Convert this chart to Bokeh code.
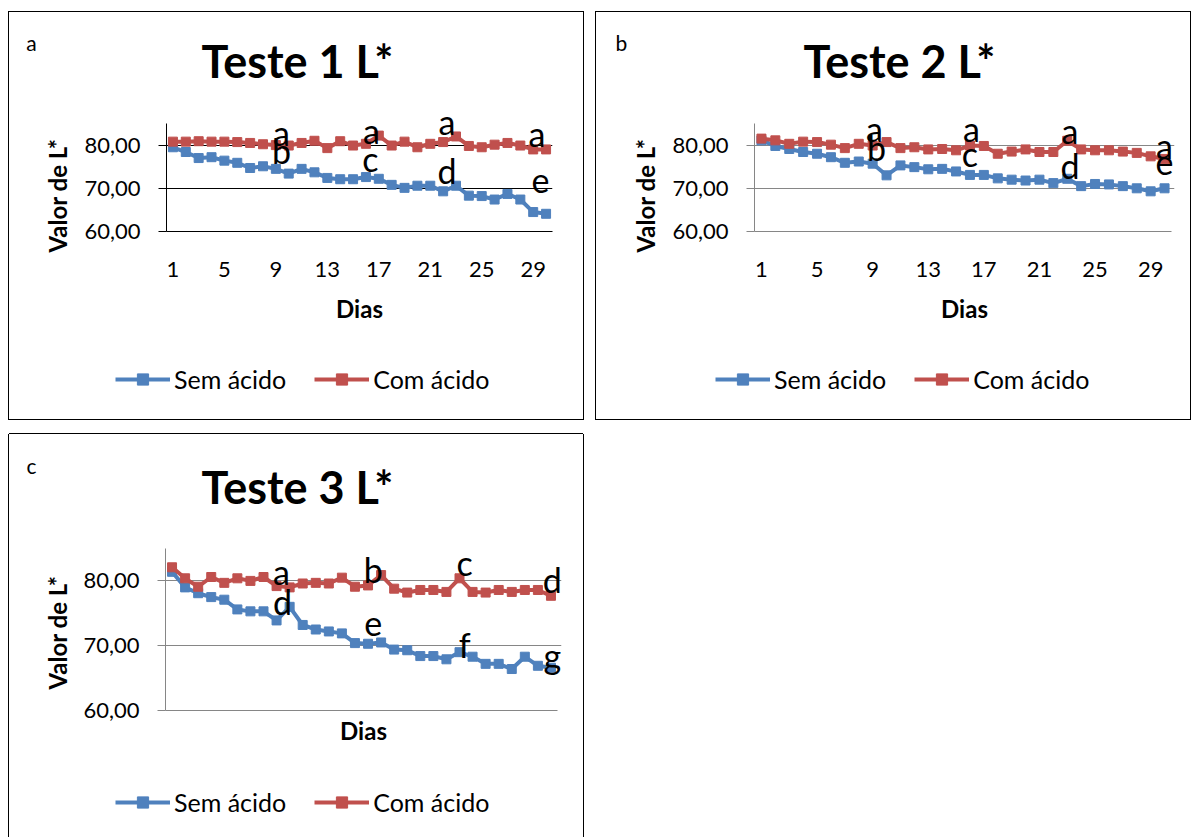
import math
from bokeh.plotting import figure
from bokeh.models import Range1d, FixedTicker, Legend, LegendItem, Spacer
from bokeh.layouts import row, column
from bokeh.core.properties import value
from bokeh.embed import file_html
from bokeh.resources import INLINE

# ---------------- data ----------------
days = list(range(1, 31))
x_tick_days = [1, 5, 9, 13, 17, 21, 25, 29]
y_ticks = [60, 70, 80]
y_tick_labels = {60: "60,00", 70: "70,00", 80: "80,00"}
series_names = ["Sem ácido", "Com ácido"]
panel_titles = ["Teste 1 L*", "Teste 2 L*", "Teste 3 L*"]
panel_tags = ["a", "b", "c"]
x_title = "Dias"
y_title = "Valor de L*"

t1_sem = [79.5, 78.4, 77.0, 77.2, 76.4, 75.9, 74.7, 75.1, 74.5, 73.4,
          74.5, 73.7, 72.4, 72.1, 72.1, 72.6, 72.2, 70.8, 70.1, 70.6,
          70.6, 69.3, 70.6, 68.3, 68.2, 67.4, 68.7, 67.4, 64.5, 64.1]
t1_com = [80.8, 80.8, 80.9, 80.8, 80.8, 80.7, 80.5, 80.2, 80.0, 79.9,
          80.5, 81.0, 79.3, 80.9, 79.9, 80.3, 82.2, 79.9, 80.8, 79.5,
          80.3, 80.7, 82.0, 79.8, 79.5, 80.1, 80.5, 79.9, 79.0, 79.0]

t2_sem = [81.1, 79.8, 79.1, 78.4, 78.0, 77.2, 75.9, 76.2, 75.7, 73.0,
          75.3, 74.9, 74.4, 74.5, 73.9, 73.1, 73.1, 72.3, 72.0, 71.8,
          72.0, 71.2, 72.2, 70.5, 71.0, 70.9, 70.5, 70.0, 69.3, 70.0]
t2_com = [81.5, 81.1, 80.3, 80.8, 80.7, 80.1, 79.3, 80.3, 79.9, 80.7,
          79.3, 79.5, 79.0, 79.1, 78.8, 79.9, 79.8, 78.0, 78.5, 79.0,
          78.4, 78.4, 81.0, 79.0, 78.8, 78.8, 78.5, 78.2, 77.4, 76.8]

t3_sem = [81.4, 79.0, 78.1, 77.5, 77.1, 75.6, 75.3, 75.3, 73.9, 76.0,
          73.2, 72.5, 72.2, 71.9, 70.4, 70.3, 70.5, 69.4, 69.3, 68.4,
          68.4, 67.9, 69.0, 68.3, 67.2, 67.2, 66.4, 68.3, 66.9, 66.6]
t3_com = [82.1, 80.4, 79.1, 80.6, 79.7, 80.4, 80.0, 80.6, 79.2, 79.0,
          79.6, 79.7, 79.6, 80.5, 79.1, 79.3, 80.9, 78.8, 78.2, 78.6,
          78.6, 78.3, 80.4, 78.3, 78.2, 78.6, 78.3, 78.6, 78.6, 77.7]

# significance letters (text, day, value)
t1_letters = ["a", "b", "a", "c", "a", "d", "a", "e"]
t1_letter_day = [9.44, 9.44, 16.43, 16.35, 22.3, 22.3, 29.3, 29.56]
t1_letter_val = [82.9, 78.75, 83.4, 76.9, 85.5, 74.1, 82.7, 71.8]

t2_letters = ["a", "b", "a", "c", "a", "d", "a", "e"]
t2_letter_day = [9.13, 9.27, 16.1, 16.0, 23.2, 23.2, 30.0, 30.0]
t2_letter_val = [83.8, 79.4, 83.8, 78.05, 83.4, 75.3, 79.9, 76.0]

t3_letters = ["a", "d", "b", "e", "c", "f", "d", "g"]
t3_letter_day = [9.38, 9.45, 16.4, 16.4, 23.4, 23.4, 30.1, 30.1]
t3_letter_val = [81.4, 76.8, 81.7, 73.4, 82.9, 70.2, 80.15, 68.5]

BLUE = "#4F81BD"
RED = "#C0504D"
FONT = "Lato"


def no_align(f):
    try:
        f.frame_align = False
    except Exception:
        pass
    return f


def bare(width, height):
    f = figure(frame_width=width, frame_height=height, output_backend="svg",
               toolbar_location=None,
               x_range=Range1d(0, width), y_range=Range1d(height, 0),
               x_axis_type=None, y_axis_type=None,
               min_border_left=0, min_border_right=0, min_border_top=0, min_border_bottom=0)
    f.grid.visible = False
    f.outline_line_color = None
    f.background_fill_color = "white"
    f.border_fill_color = "white"
    return no_align(f)


def header(width, height, title, tag, title_xy, tag_xy):
    h = bare(width, height)
    h.text(x=[title_xy[0]], y=[title_xy[1]], text=[title], text_align="center",
           text_baseline="middle", text_font=value(FONT), text_font_style="bold",
           text_font_size=value("45px"), text_color="black")
    h.text(x=[tag_xy[0]], y=[tag_xy[1]], text=[tag], text_align="center",
           text_baseline="middle", text_font=value(FONT),
           text_font_size=value("21px"), text_color="black")
    return h


def ylabel(width, height, cx, cy):
    f = bare(width, height)
    f.text(x=[cx], y=[cy], text=[y_title], angle=math.pi / 2, text_align="center",
           text_baseline="middle", text_font=value(FONT), text_font_style="bold",
           text_font_size=value("24px"), text_color="black")
    return f


def footer(width, height, legend_x, legend_cy, sem, com):
    f = bare(width, height)
    # the series are drawn on a range that keeps them out of sight; only their legend shows
    f.extra_x_ranges = {"hidden": Range1d(1000, 2000)}
    r1l = f.line(days, sem, x_range_name="hidden", line_color=BLUE, line_width=4)
    r1m = f.scatter(days, sem, x_range_name="hidden", marker="square", size=9,
                    fill_color=BLUE, line_color=BLUE)
    r2l = f.line(days, com, x_range_name="hidden", line_color=RED, line_width=4)
    r2m = f.scatter(days, com, x_range_name="hidden", marker="square", size=9,
                    fill_color=RED, line_color=RED)
    lh = 28
    legend = Legend(items=[LegendItem(label=series_names[0], renderers=[r1l, r1m]),
                           LegendItem(label=series_names[1], renderers=[r2l, r2m])],
                    orientation="horizontal",
                    location=(legend_x, int(round(height - (legend_cy + lh / 2)))),
                    glyph_width=55, glyph_height=lh, label_height=lh, label_standoff=4,
                    spacing=28, padding=0, margin=0, border_line_color=None,
                    background_fill_alpha=0, label_text_font=FONT,
                    label_text_font_size="25px", label_text_color="black")
    f.add_layout(legend)
    return f


def plot(ox, top, width, height, L, R, py85, py60, ftop, x_end_req, sem, com,
         letters, l_day, l_val, axis_color, show_xticks):
    cw = (R - L) / 30.0
    fr = int(round(R + (x_end_req - 30.5) * cw))
    x_end = 0.5 + 30.0 * (fr - L) / (R - L)
    y_end = 60 + 25.0 * (py60 - ftop) / (py60 - py85)
    p = figure(width=width, height=height, output_backend="svg", toolbar_location=None,
               x_range=Range1d(0.5, x_end), y_range=Range1d(60, y_end),
               min_border_left=L - ox, min_border_right=ox + width - fr,
               min_border_top=ftop - top, min_border_bottom=top + height - py60)
    no_align(p)
    p.outline_line_color = None
    p.background_fill_color = "white"
    p.border_fill_color = "white"

    xax = p.xaxis[0]
    yax = p.yaxis[0]
    xax.ticker = FixedTicker(ticks=x_tick_days if show_xticks else [])
    xax.bounds = (0.5, 30.5)
    xax.major_tick_out = 0
    xax.major_tick_in = 0
    xax.minor_tick_line_color = None
    xax.axis_line_color = axis_color
    xax.major_label_text_font = FONT
    xax.major_label_text_font_size = "22px"
    xax.major_label_text_color = "black"
    xax.major_label_standoff = 30
    xax.axis_label = x_title
    xax.axis_label_text_font = FONT
    xax.axis_label_text_font_style = "bold"
    xax.axis_label_text_font_size = "24px"
    xax.axis_label_text_color = "black"
    xax.axis_label_standoff = 14 if show_xticks else 5

    yax.ticker = FixedTicker(ticks=y_ticks)
    yax.bounds = (60, 85)
    yax.major_label_overrides = y_tick_labels
    yax.major_tick_out = 8
    yax.major_tick_in = 0
    yax.major_tick_line_color = axis_color
    yax.minor_tick_line_color = None
    yax.axis_line_color = axis_color
    yax.major_label_text_font = FONT
    yax.major_label_text_font_size = "22px"
    yax.major_label_text_color = "black"
    yax.major_label_standoff = 18

    p.xgrid.visible = False
    p.ygrid.ticker = FixedTicker(ticks=y_ticks)
    p.ygrid.grid_line_color = axis_color
    p.ygrid.grid_line_width = 1

    p.line(days, sem, line_color=BLUE, line_width=4)
    p.scatter(days, sem, marker="square", size=9, fill_color=BLUE, line_color=BLUE)
    p.line(days, com, line_color=RED, line_width=4)
    p.scatter(days, com, marker="square", size=9, fill_color=RED, line_color=RED)

    p.text(x=l_day, y=l_val, text=letters, text_align="center", text_baseline="middle",
           text_font=value(FONT), text_font_size=value("34px"), text_color="black")
    return p


YW = 66  # width of the y-title strip

# panel a : inner box x 9..583, y 12..419
hA = header(574, 88, panel_titles[0], panel_tags[0], (288, 48), (22, 30))
yA = ylabel(YW, 235, 48, 95)
pA = plot(9 + YW, 100, 574 - YW, 235, 166, 552, 123, 231, 110, 30.5, t1_sem, t1_com,
          t1_letters, t1_letter_day, t1_letter_val, "#000000", True)
fA = footer(574, 84, 106, 45, t1_sem, t1_com)
wrapA = column(hA, row(yA, pA), fA, styles={"box-shadow": "0 0 0 1px #000000"})

# panel b : inner box x 596..1190, y 12..419
hB = header(594, 88, panel_titles[1], panel_tags[1], (303, 48), (25, 30))
yB = ylabel(YW, 235, 49, 95)
pB = plot(596 + YW, 100, 594 - YW, 235, 754, 1171, 123, 231, 110, 30.7, t2_sem, t2_com,
          t2_letters, t2_letter_day, t2_letter_val, "#868686", True)
fB = footer(594, 84, 119, 45, t2_sem, t2_com)
wrapB = column(hB, row(yB, pB), fB, styles={"box-shadow": "0 0 0 1px #000000"})

# panel c : inner box x 9..583, y 434..837 (bottom edge off page)
hC = header(574, 86, panel_titles[2], panel_tags[2], (288, 52), (22, 31))
yC = ylabel(YW, 235, 48, 112)
pC = plot(9 + YW, 520, 574 - YW, 235, 165, 557, 548, 710, 529, 30.8, t3_sem, t3_com,
          t3_letters, t3_letter_day, t3_letter_val, "#868686", False)
fC = footer(574, 82, 106, 48, t3_sem, t3_com)
wrapC = column(hC, row(yC, pC), fC,
               styles={"box-shadow": "-1px 0 0 0 #000000, 1px 0 0 0 #000000, 0 -1px 0 0 #000000"})

layout = column(Spacer(height=12, width=1),
                row(Spacer(width=9, height=1), wrapA, Spacer(width=13, height=1), wrapB),
                Spacer(height=15, width=1),
                row(Spacer(width=9, height=1), wrapC))

open("out.html", "w").write(file_html(layout, INLINE))
